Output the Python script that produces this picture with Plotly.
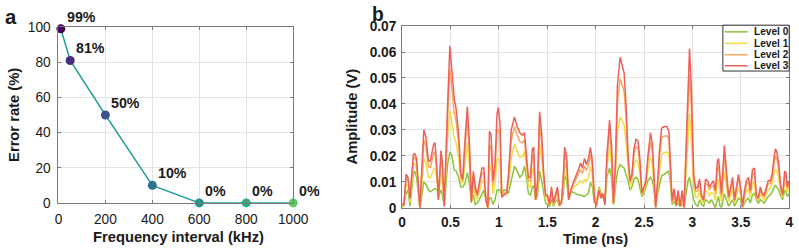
import plotly.graph_objects as go

# ---------------- Panel a data ----------------
freq_khz = [10, 50, 200, 400, 600, 800, 1000]
error_rate = [99, 81, 50, 10, 0, 0, 0]
rate_labels = ["99%", "81%", "50%", "10%", "0%", "0%", "0%"]
marker_colors = ["#440154", "#472d7b", "#3b528b", "#2c728e", "#21918c", "#28ae80", "#5ec962"]

# ---------------- Panel b data ----------------
time_ns = [0.000,0.020,0.041,0.061,0.082,0.116,0.130,0.150,0.184,0.225,0.245,0.273,0.293,0.327,0.341,0.362,0.375,0.402,0.416,0.436,
           0.470,0.494,0.514,0.539,0.559,0.586,0.607,0.627,0.648,0.675,0.696,0.716,0.736,0.757,0.777,0.797,0.825,0.845,0.866,0.886,
           0.903,0.920,0.940,0.960,0.981,0.995,1.012,1.030,1.053,1.080,1.100,1.128,1.162,1.189,1.217,1.244,1.265,1.285,1.305,1.326,
           1.346,1.360,1.380,1.400,1.421,1.442,1.462,1.483,1.503,1.524,1.544,1.564,1.585,1.605,1.626,1.646,1.667,1.680,1.700,1.721,
           1.742,1.762,1.790,1.817,1.844,1.864,1.885,1.905,1.926,1.946,1.967,1.987,2.007,2.035,2.055,2.075,2.096,2.116,2.144,2.164,
           2.184,2.205,2.225,2.253,2.277,2.294,2.314,2.335,2.355,2.375,2.396,2.417,2.437,2.457,2.478,2.500,2.520,2.540,2.567,2.587,
           2.607,2.620,2.641,2.661,2.682,2.709,2.736,2.757,2.770,2.790,2.811,2.832,2.852,2.873,2.893,2.914,2.934,2.955,2.970,2.990,
           3.013,3.033,3.054,3.074,3.094,3.115,3.135,3.156,3.176,3.196,3.217,3.237,3.258,3.270,3.285,3.300,3.330,3.354,3.374,3.395,
           3.415,3.435,3.456,3.476,3.497,3.517,3.538,3.558,3.579,3.599,3.620,3.640,3.660,3.681,3.701,3.722,3.742,3.763,3.783,3.804,
           3.824,3.845,3.858,3.872,3.892,3.913,3.933,3.953,3.967,3.980,4.000]

level3 = [.0016,.001,.0129,.0117,.0037,.0203,.021,.019,0,.030,.0276,.018,.018,.0245,.025,.014,.003,.022,.018,.0006,
          .039,.0623,.053,.042,.038,.0276,.0129,.011,.025,.039,.025,.002,.014,.008,.005,.0092,.0153,.0153,.003,0,
          .0295,.028,.0104,.0166,.036,.0387,.0326,.004,.0049,.0055,.0129,.030,.035,.0313,.0289,.028,.0289,.020,.0117,.0117,
          .0227,.0233,.003,.0104,.037,.0289,.0141,.0049,.0049,.0012,.008,.0018,.0049,.008,.001,.0018,.0129,.0233,.020,.003,
          .0067,.0092,.0117,.0141,.0172,.0153,.019,.0166,.019,.0233,.0178,.003,.0005,.0067,.0037,.0055,.001,.020,.0338,.024,
          .0018,.0178,.047,.058,.0546,.052,.040,.020,.0104,.0129,.0227,.0264,.0258,.019,.0055,.008,.0104,.020,.0289,.024,
          .0104,0,.0104,.0227,.0307,.0313,.0313,.0295,.019,.0025,.0074,.001,.0067,.0005,.0067,0,.0227,.047,.0614,.045,
          .0129,.0074,.008,.011,.0049,.003,.011,.0104,.008,.0092,.0104,.0067,.0178,.019,.0104,.0055,.024,.0129,.0043,.008,
          .0117,.003,.0092,.0129,.008,.0005,.0067,.0104,.0117,.0067,.0147,.0153,.0049,.0037,.008,.0055,.0049,.008,.0104,.0104,
          .0129,.020,.0227,.0215,.0166,.008,.0049,.0141,.0135,.008,.0104]

level2 = [.0013,.0012,.0114,.0107,.0031,.0188,.0196,.0175,0,.026,.0239,.0158,.0156,.021,.0215,.0126,.0033,.019,.0154,.0006,
          .0345,.0535,.0465,.0365,.0332,.0244,.0119,.0104,.0218,.0339,.0218,.0021,.0122,.0066,.0044,.008,.0133,.0136,.003,0,
          .0243,.0231,.0086,.0139,.0295,.030,.0277,.0042,.0053,.0058,.0114,.0261,.0312,.0279,.0255,.025,.0263,.0183,.0105,.0104,
          .0198,.0204,.003,.0093,.0324,.0252,.0124,.0043,.0042,.0011,.007,.0016,.0044,.007,.0009,.002,.0114,.0211,.0181,.0032,
          .0065,.0086,.0105,.0124,.0147,.0132,.0161,.0143,.0163,.0206,.0158,.0028,.001,.007,.004,.0051,.0014,.0183,.0301,.0215,
          .0017,.0161,.0404,.0497,.0469,.0447,.0346,.0181,.0097,.0119,.0204,.0235,.0228,.0168,.0053,.0075,.0099,.0181,.0255,.0213,
          .0094,.0001,.0094,.020,.027,.0276,.0277,.0264,.0173,.0022,.0064,.0009,.0057,.0005,.0056,.0001,.0193,.0397,.0515,.0376,
          .0109,.0062,.0065,.0094,.0042,.0025,.0094,.0088,.0068,.008,.0085,.0054,.0149,.0161,.0084,.0044,.0203,.0109,.0036,.0068,
          .010,.0025,.0079,.011,.007,.0004,.0057,.009,.0101,.0057,.0127,.0133,.0045,.0033,.007,.0049,.0043,.007,.0092,.0093,
          .0115,.0176,.0199,.0188,.0146,.0073,.0045,.0126,.012,.0073,.0094]

level1 = [.0007,.0014,.0088,.009,.002,.0162,.0172,.015,0,.0189,.0175,.0118,.0115,.0148,.0153,.010,.0038,.0136,.0108,.0006,
          .0267,.0375,.033,.027,.0249,.0189,.0102,.0094,.0163,.025,.0163,.0022,.009,.0043,.0032,.0058,.0099,.0106,.003,0,
          .017,.0146,.0053,.0092,.0185,.019,.0175,.0045,.006,.0062,.0088,.0192,.0246,.0218,.0194,.0197,.0218,.0154,.0083,.008,
          .0146,.0152,.003,.0074,.0244,.0187,.0094,.0032,.0029,.0009,.0053,.0011,.0036,.0053,.0008,.0022,.0088,.0173,.0147,.0034,
          .006,.0075,.0083,.0091,.0104,.0094,.0109,.0102,.0116,.0159,.0124,.0024,.0015,.0074,.0046,.0045,.002,.0154,.0236,.0172,
          .0015,.0131,.0289,.035,.0334,.0318,.0251,.0147,.0084,.0102,.0163,.0183,.0177,.013,.0048,.0066,.0091,.0147,.0194,.0165,
          .0077,.0003,.0077,.0153,.0206,.0212,.0215,.021,.0143,.0018,.0047,.0008,.004,.0005,.0037,.0003,.0132,.0269,.0365,.0247,
          .0075,.004,.0039,.0067,.0029,.0017,.0067,.0061,.0046,.0058,.0053,.003,.0097,.011,.005,.0025,.0138,.0075,.0023,.0046,
          .007,.0017,.0055,.0078,.0053,.0002,.004,.0064,.0073,.004,.0093,.0099,.0039,.0027,.0053,.0039,.0032,.0053,.007,.0074,
          .0092,.0134,.0149,.0141,.0113,.006,.0039,.0101,.0094,.006,.0077]

level0 = [0,.0018,.0055,.0068,.0006,.0129,.0141,.0117,0,.0098,.0092,.0068,.0061,.0068,.0074,.0068,.0043,.0068,.0049,.0006,
          .0166,.0215,.0203,.0147,.0141,.0117,.008,.008,.0092,.0135,.0092,.0025,.0049,.0012,.0018,.0031,.0055,.0068,.0031,0,
          .0037,.0037,.0012,.0031,.0068,.0068,.0068,.0049,.0068,.0068,.0055,.0104,.016,.0141,.0117,.0129,.016,.0117,.0055,.0049,
          .008,.0086,.0031,.0049,.0141,.0104,.0055,.0018,.0012,.0006,.0031,.0006,.0025,.0031,.0006,.0025,.0055,.0123,.0104,.0037,
          .0055,.0061,.0055,.005,.0049,.0046,.0043,.005,.0055,.0098,.008,.0018,.0025,.008,.0055,.0037,.0031,.0117,.0153,.0117,
          .0012,.0092,.0141,.0166,.016,.0153,.0129,.0104,.0068,.008,.011,.0117,.011,.008,.0043,.0055,.008,.0104,.0117,.0104,
          .0055,.0006,.0055,.0092,.0123,.0129,.0135,.0141,.0104,.0012,.0025,.0006,.0018,.0006,.0012,.0006,.0055,.0104,.0117,.008,
          .0031,.0012,.0006,.0031,.0012,.0006,.0031,.0025,.0018,.0031,.0012,0,.0031,.0043,.0006,0,.0055,.0031,.0006,.0018,
          .0031,.0006,.0025,.0037,.0031,0,.0018,.0031,.0037,.0018,.0049,.0055,.0031,.0018,.0031,.0025,.0018,.0031,.0043,.0049,
          .0061,.008,.0086,.008,.0068,.0043,.0031,.0068,.0061,.0043,.0055]

level_names = ["Level 0", "Level 1", "Level 2", "Level 3"]
level_colors = ["#8cc43c", "#f3dc45", "#f8a95e", "#ef5f5a"]

# ---------------- Figure ----------------
# The photographed page appears at ~98.5% scale, so the figure is sized to fill
# that viewport; positions below are given in photographed-pixel units (R) and
# converted to paper fractions.
S = 0.985
W, H = 811, 256
FONT = "Liberation Sans, Arial, Helvetica, sans-serif"


def px(r):
    return (r / S) / W


def py(r):
    return 1 - (r / S) / H


def fs(size):
    return round(size / S, 2)


fig = go.Figure()

fig.add_trace(go.Scatter(
    x=freq_khz, y=error_rate, mode="lines+markers",
    line=dict(color="#23a09a", width=1.5),
    marker=dict(color=marker_colors, size=9, line=dict(width=0)),
    showlegend=False, xaxis="x", yaxis="y", cliponaxis=False, hoverinfo="skip",
))

for name, col, vals in zip(level_names, level_colors, [level0, level1, level2, level3]):
    fig.add_trace(go.Scatter(
        x=time_ns, y=vals, mode="lines", name=name,
        line=dict(color=col, width=1.5),
        xaxis="x2", yaxis="y2", showlegend=False, hoverinfo="skip",
    ))

axis_common = dict(
    showline=True, linecolor="#7a7a7a", linewidth=1, mirror="ticks",
    ticks="inside", ticklen=3, tickcolor="#7a7a7a",
    showgrid=True, gridcolor="#e3e3e3", gridwidth=1, zeroline=False,
)

B_RIGHT = 793

fig.update_layout(
    width=W, height=H,
    margin=dict(l=0, r=0, t=0, b=0),
    paper_bgcolor="white", plot_bgcolor="white",
    font=dict(family=FONT, color="#1a1a1a", size=12),
    showlegend=False,
    xaxis=dict(domain=[px(55), px(292)], range=[0, 1000], tickvals=[0, 200, 400, 600, 800, 1000],
               tickfont=dict(size=fs(13.5), color="#1a1a1a"), anchor="y", ticklabelstandoff=4, **axis_common),
    yaxis=dict(domain=[py(205), py(21)], range=[0, 100], tickvals=[0, 20, 40, 60, 80, 100],
               tickfont=dict(size=fs(13.5), color="#1a1a1a"), anchor="x", ticklabelstandoff=4, **axis_common),
    xaxis2=dict(domain=[px(402), px(B_RIGHT)], range=[0, 4], dtick=0.5, tick0=0,
                tickfont=dict(size=fs(13.5), color="#1a1a1a", weight="bold"), anchor="y2", ticklabelstandoff=2,
                **axis_common),
    yaxis2=dict(domain=[py(210), py(20)], range=[0, 0.07], dtick=0.01, tick0=0,
                tickfont=dict(size=fs(13.5), color="#1a1a1a", weight="bold"), anchor="x2", ticklabelstandoff=2,
                **axis_common),
)

annotations = []
for xv, yv, lab in zip(freq_khz, error_rate, rate_labels):
    annotations.append(dict(x=xv, y=yv, xref="x", yref="y", text="<b>" + lab + "</b>",
                            showarrow=False, xanchor="left", yanchor="middle",
                            xshift=4, yshift=12, font=dict(size=fs(14), color="#1a1a1a")))

annotations += [
    dict(x=px(176), y=py(241), xref="paper", yref="paper", text="<b>Frequency interval (kHz)</b>",
         showarrow=False, xanchor="center", yanchor="middle", font=dict(size=fs(14.5))),
    dict(x=px(10), y=py(113), xref="paper", yref="paper", text="<b>Error rate (%)</b>", textangle=-90,
         showarrow=False, xanchor="center", yanchor="middle", font=dict(size=fs(14.5))),
    dict(x=px(597), y=py(243), xref="paper", yref="paper", text="<b>Time (ns)</b>",
         showarrow=False, xanchor="center", yanchor="middle", font=dict(size=fs(14.5))),
    dict(x=px(351), y=py(115), xref="paper", yref="paper", text="<b>Amplitude (V)</b>", textangle=-90,
         showarrow=False, xanchor="center", yanchor="middle", font=dict(size=fs(14.5))),
    dict(x=px(-1), y=py(10), xref="paper", yref="paper", text="<b>a</b>",
         showarrow=False, xanchor="left", yanchor="middle", font=dict(size=fs(20))),
    dict(x=px(370), y=py(8), xref="paper", yref="paper", text="<b>b</b>",
         showarrow=False, xanchor="left", yanchor="middle", font=dict(size=fs(19))),
]

shapes = [dict(type="rect", xref="paper", yref="paper", x0=px(B_RIGHT - 67), x1=px(B_RIGHT), y0=py(67), y1=py(19),
               fillcolor="white", line=dict(color="#333333", width=1), layer="above")]
legend_rows = [26, 38, 50, 61.5]
for name, col, yy in zip(level_names, level_colors, legend_rows):
    shapes.append(dict(type="line", xref="paper", yref="paper", x0=px(B_RIGHT - 65), x1=px(B_RIGHT - 42),
                       y0=py(yy), y1=py(yy), line=dict(color=col, width=1.5), layer="above"))
    annotations.append(dict(x=px(B_RIGHT - 38), y=py(yy), xref="paper", yref="paper", text="<b>" + name + "</b>",
                            showarrow=False, xanchor="left", yanchor="middle",
                            font=dict(size=fs(10), color="#1a1a1a")))

fig.update_layout(annotations=annotations, shapes=shapes)

# remove the page's default body margin (runs synchronously while the page loads)
reset_css = ("});"
             "var _s=document.createElement('style');"
             "_s.innerHTML='html,body{margin:0!important;padding:0!important;overflow:hidden;}';"
             "document.head.appendChild(_s);"
             "document.body.style.margin='0';"
             "(function(){")

fig.write_html("out.html", config={"displayModeBar": False}, post_script=reset_css)
